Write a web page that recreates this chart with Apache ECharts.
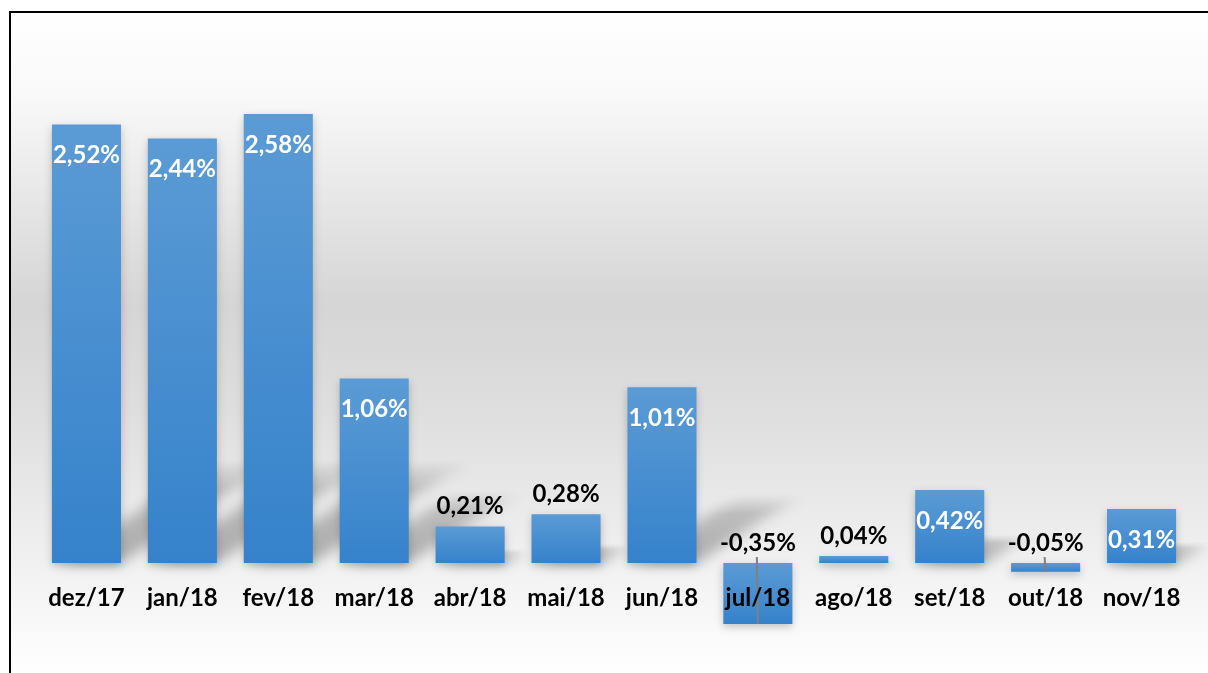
<!DOCTYPE html>
<html>
<head>
<meta charset="utf-8">
<script src="https://cdn.jsdelivr.net/npm/echarts@6/dist/echarts.min.js"></script>
<style>html,body{margin:0;padding:0;background:#fff}#c{width:1208px;height:673px}</style>
</head>
<body>
<div id="c"></div>
<script>
const categories = ['dez/17','jan/18','fev/18','mar/18','abr/18','mai/18','jun/18','jul/18','ago/18','set/18','out/18','nov/18'];
const values = [2.52, 2.44, 2.58, 1.06, 0.21, 0.28, 1.01, -0.35, 0.04, 0.42, -0.05, 0.31];

const FONT = 'Lato';
const fmt = v => v.toFixed(2).replace('.', ',') + '%';

const Y_MIN = -0.5, Y_MAX = 3.0;
const GRID = { left: 38.5, right: 18.5, top: 41, bottom: 23 };
const gridH = 673 - GRID.top - GRID.bottom;
const zeroOffset = -gridH * (0 - Y_MIN) / (Y_MAX - Y_MIN);

const barData = values.map(v => {
  let label;
  if (v >= 0.3) {
    label = { position: 'insideTop', distance: 19, color: '#ffffff' };
  } else {
    label = { position: 'top', distance: 8, color: '#000000' };
  }
  return { value: v, label };
});

const chart = echarts.init(document.getElementById('c'), null, { renderer: 'canvas' });

const option = {
  animation: false,
  backgroundColor: '#ffffff',
  graphic: [
    {
      type: 'rect', z: -10, silent: true,
      shape: { x: 11, y: 13, width: 1197, height: 660 },
      style: {
        fill: new echarts.graphic.LinearGradient(0, 0, 0, 1, [
          { offset: 0, color: '#ffffff' },
          { offset: 0.12, color: '#f9f9f9' },
          { offset: 0.44, color: '#d5d5d5' },
          { offset: 0.6, color: '#dedede' },
          { offset: 0.85, color: '#f2f2f2' },
          { offset: 1, color: '#ffffff' }
        ])
      }
    },
    { type: 'line', z: 100, silent: true, shape: { x1: 9, y1: 12, x2: 1208, y2: 12 }, style: { stroke: '#000', lineWidth: 2 } },
    { type: 'line', z: 100, silent: true, shape: { x1: 10, y1: 12, x2: 10, y2: 673 }, style: { stroke: '#000', lineWidth: 2 } }
  ],
  grid: Object.assign({ containLabel: false, outerBoundsMode: 'none' }, GRID),
  xAxis: {
    type: 'category',
    data: categories,
    z: 5,
    offset: zeroOffset,
    axisLine: { show: false, onZero: false },
    axisTick: { show: false },
    axisLabel: { interval: 0, margin: 23, fontFamily: FONT, fontWeight: 'bold', fontSize: 24, color: '#000' }
  },
  yAxis: {
    type: 'value', min: Y_MIN, max: Y_MAX, interval: 0.5,
    show: false,
    splitLine: { show: false }
  },
  series: [
    {
      type: 'custom', z: 1, silent: true,
      data: values.map((v, i) => [i, v]),
      renderItem: function (params, api) {
        const i = api.value(0), v = api.value(1);
        if (v <= 0) return null;
        const p0 = api.coord([i, 0]);
        const pv = api.coord([i, v]);
        const bw = api.size([1, 0])[0] * 0.72;
        const h = p0[1] - pv[1];
        const ht = Math.min(h * 0.4, 105);
        const dx = ht * 1.5;
        const off = 3000;
        const xl = p0[0] - bw / 2 - off, xr = p0[0] + bw / 2 - off, y0 = p0[1];
        return {
          type: 'polygon',
          shape: { points: [[xl + 8, y0], [xr, y0], [xr + dx, y0 - ht], [xl + dx + 8, y0 - ht]] },
          style: {
            fill: new echarts.graphic.LinearGradient(0, 1, 0, 0, [
              { offset: 0, color: 'rgba(0,0,0,0.32)' },
              { offset: 0.7, color: 'rgba(0,0,0,0.22)' },
              { offset: 1, color: 'rgba(0,0,0,0.0)' }
            ]),
            shadowColor: 'rgba(0,0,0,0.9)',
            shadowBlur: 14,
            shadowOffsetX: off,
            shadowOffsetY: 0
          }
        };
      }
    },
    {
      type: 'bar',
      z: 2,
      data: barData,
      barCategoryGap: '28%',
      itemStyle: {
        color: new echarts.graphic.LinearGradient(0, 0, 0, 1, [
          { offset: 0, color: '#5b9bd5' },
          { offset: 1, color: '#3582cb' }
        ]),
        shadowColor: 'rgba(0,0,0,0.22)',
        shadowBlur: 8,
        shadowOffsetY: 3
      },
      label: {
        show: true,
        fontFamily: FONT,
        fontWeight: 'bold',
        fontSize: 24,
        formatter: p => fmt(p.value)
      }
    },
    {
      type: 'custom', z: 3, silent: true,
      data: values.map((v, i) => [i, v]),
      renderItem: function (params, api) {
        const i = api.value(0), v = api.value(1);
        if (v >= 0) return null;
        const p0 = api.coord([i, 0]);
        const pv = api.coord([i, v]);
        return {
          type: 'line',
          shape: { x1: p0[0] - 1, y1: p0[1] - 6, x2: p0[0], y2: pv[1] },
          style: { stroke: '#808080', lineWidth: 2 }
        };
      }
    }
  ]
};
chart.setOption(option);
</script>
</body>
</html>
